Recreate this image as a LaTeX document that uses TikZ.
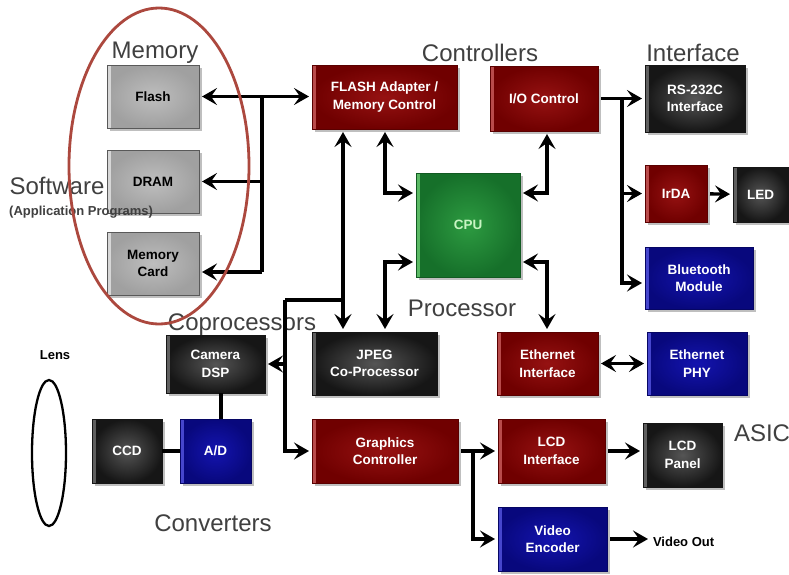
\documentclass[tikz,border=0pt]{standalone}
\usepackage{fontspec}
\setmainfont{Liberation Sans}
\usetikzlibrary{arrows.meta,shadows}

\definecolor{headgray}{RGB}{64,64,64}
\definecolor{rin}{RGB}{150,18,18}
\definecolor{rout}{RGB}{112,0,0}
\definecolor{rhl}{RGB}{185,75,75}
\definecolor{kin}{RGB}{85,85,85}
\definecolor{kout}{RGB}{22,22,22}
\definecolor{khl}{RGB}{95,95,95}
\definecolor{bin}{RGB}{20,20,175}
\definecolor{bout}{RGB}{8,8,125}
\definecolor{bhl}{RGB}{70,70,205}
\definecolor{gin}{RGB}{45,155,65}
\definecolor{gout}{RGB}{22,112,42}
\definecolor{ghl}{RGB}{90,185,100}
\definecolor{cputext}{RGB}{200,245,195}
\definecolor{yin}{RGB}{190,190,190}
\definecolor{yout}{RGB}{160,160,160}
\definecolor{yhl}{RGB}{215,215,215}
\definecolor{ringred}{RGB}{172,72,62}

\begin{document}
\begin{tikzpicture}[x=1pt,y=-1pt,
  >={Stealth[length=15pt,width=17pt,inset=6pt]},
  conn/.style={line width=3.4pt,black},
  sz/.style 2 args={minimum width=#1pt,minimum height=#2pt},
  edge/.style={path picture={\fill[#1] (path picture bounding box.north west)
      rectangle ([xshift=3.5pt]path picture bounding box.south west);}},
  box/.style={rectangle,inner sep=2pt,outer sep=3pt,align=center,
    font=\bfseries\fontsize{13.5}{17.5}\selectfont,line width=1pt,
    drop shadow={shadow xshift=2.5pt,shadow yshift=-2.5pt,opacity=0.5}},
  redbox/.style={box,text=white,draw=rout!80!black,inner color=rin,outer color=rout,edge=rhl},
  blkbox/.style={box,text=white,draw=kout,inner color=kin,outer color=kout,edge=khl},
  blubox/.style={box,text=white,draw=bout!80!black,inner color=bin,outer color=bout,edge=bhl},
  grnbox/.style={box,text=cputext,draw=gout!80!black,inner color=gin,outer color=gout,edge=ghl},
  grybox/.style={box,text=black,draw=gray!70!black,inner color=yin,outer color=yout,edge=yhl},
  head/.style={text=headgray,font=\fontsize{24}{28}\selectfont,inner sep=0pt},
  note/.style={font=\bfseries\fontsize{13}{16}\selectfont,inner sep=0pt}
]
\useasboundingbox[fill=white] (0,0) rectangle (789,574);

% ---- memory ----
\node[grybox,sz={92}{63}] (flash) at (153,96.5) {Flash};
\node[grybox,sz={92}{63}] (dram)  at (153,181.5) {DRAM};
\node[grybox,sz={92}{63}] (mcard) at (153,263.5) {Memory\\Card};

% ---- controllers, processor ----
\node[redbox,sz={145}{64}] (fac) at (384.5,97) {FLASH Adapter /\\Memory Control};
\node[redbox,sz={108}{65}] (ioc) at (544,98.5) {I/O Control};
\node[grnbox,sz={104}{104}] (cpu) at (468,225) {CPU};

% ---- interface ----
\node[blkbox,sz={100}{67}] (rs232) at (695,98.5) {RS-232C\\Interface};
\node[redbox,sz={62}{57}]  (irda)  at (676,193.5) {IrDA};
\node[blkbox,sz={55}{55}]  (led)   at (760.5,194.5) {LED};
\node[blubox,sz={108}{62}] (bt)    at (699,278) {Bluetooth\\Module};

% ---- coprocessors, ASIC ----
\node[blkbox,sz={99}{58}]  (camdsp) at (215.5,364) {Camera\\DSP};
\node[blkbox,sz={125}{63}] (jpeg)   at (374.5,363.5) {JPEG\\Co-Processor};
\node[redbox,sz={101}{63}] (ethif)  at (547.5,363.5) {Ethernet\\Interface};
\node[blubox,sz={100}{63}] (ethphy) at (697,363.5) {Ethernet\\PHY};
\node[redbox,sz={146}{64}] (gfx)    at (385,451) {Graphics\\Controller};
\node[redbox,sz={107}{64}] (lcdif)  at (551.5,451) {LCD\\Interface};
\node[blkbox,sz={79}{64}]  (lcdp)   at (682.5,455) {LCD\\Panel};
\node[blubox,sz={109}{64}] (venc)   at (552.5,539) {Video\\Encoder};

% ---- converters ----
\node[blkbox,sz={70}{64}] (ccd) at (127,451) {CCD};
\node[blubox,sz={71}{64}] (ad)  at (215.5,451) {A/D};

% ---- group labels ----
\node[head] (lmem)  at (155,53)  {Memory};
\node[head] (lctl)  at (480,53)  {Controllers};
\node[head] (lif)   at (693,53)  {Interface};
\node[head] (lsw)   at (57,186)  {Software};
\node[note,text=headgray,anchor=west,font=\bfseries\fontsize{13}{15}\selectfont] (lapp) at (9,212) {(Application Programs)};
\node[head] (lproc) at (462,308) {Processor};
\node[head] (lcop)  at (242,325) {Coprocessors};
\node[head] (lasic) at (762,433) {ASIC};
\node[head] (lconv) at (213,523) {Converters};
\node[note] (llens) at (55,355) {Lens};
\node[note,anchor=west,outer sep=5pt] (vout) at (648,542) {Video Out};

% ---- bus junctions ----
\coordinate (mbus) at (262,97);
\coordinate (mbusend) at (262,272);
\coordinate (lbus) at (343,300);
\coordinate (gbus) at (285,300);
\coordinate (c1) at (385,193);
\coordinate (c2) at (547,193);
\coordinate (c3) at (385,262);
\coordinate (c4) at (547,262);
\coordinate (ib) at (622,98.5);
\coordinate (ibend) at (622,283);
\coordinate (gb) at (473,451);

% memory bus
\draw[conn,<->] (flash.east) -- (flash.east -| fac.west);
\draw[conn] (mbus) -- (mbusend);
\draw[conn,->] (mbus |- dram.east) -- (dram.east);
\draw[conn,->] (mbusend) -- (mbusend -| mcard.east);

% memory controller to coprocessor side
\draw[conn,<->] (fac.south -| lbus) -- (jpeg.north -| lbus);
\draw[conn] (lbus) -- (gbus);
\draw[conn,->] (gbus) -- (gbus |- gfx.west) -- (gfx.west);
\draw[conn,->] (gbus |- camdsp.east) -- (camdsp.east);

% CPU links
\draw[conn,<->] (fac.south -| c1) -- (c1) -- (c1 -| cpu.west);
\draw[conn,<->] (ioc.south -| c2) -- (c2) -- (c2 -| cpu.east);
\draw[conn,<->] (c3 -| cpu.west) -- (c3) -- (jpeg.north -| c3);
\draw[conn,<->] (c4 -| cpu.east) -- (c4) -- (ethif.north -| c4);

% I/O fan-out
\draw[conn,->] (ioc.east) -- (ioc.east -| rs232.west);
\draw[conn,->] (ib) -- (ibend) -- (ibend -| bt.west);
\draw[conn,->] (ib |- irda.west) -- (irda.west);
\draw[conn,->] (irda) -- (led);
\draw[conn,<->] (ethif) -- (ethphy);

% display path
\draw[conn,->] (gfx.east) -- (gfx.east -| lcdif.west);
\draw[conn,->] (gb) -- (gb |- venc.west) -- (venc.west);
\draw[conn,->] (lcdif.east) -- (lcdif.east -| lcdp.west);
\draw[conn,->] (venc.east) -- (venc.east -| vout.west);

% camera chain
\draw[conn] ([xshift=-3pt]ccd.east) -- ([xshift=3pt]ad.west);
\draw[conn] ([xshift=5.5pt,yshift=-3pt]ad.north) -- ([xshift=5.5pt,yshift=3pt]camdsp.south);

% lens and highlight ring
\draw[line width=2.3pt,black] (49,453) ellipse [x radius=17pt,y radius=73pt];
\draw[line width=2.8pt,ringred] (159,166) ellipse [x radius=90pt,y radius=158pt];
\end{tikzpicture}
\end{document}
